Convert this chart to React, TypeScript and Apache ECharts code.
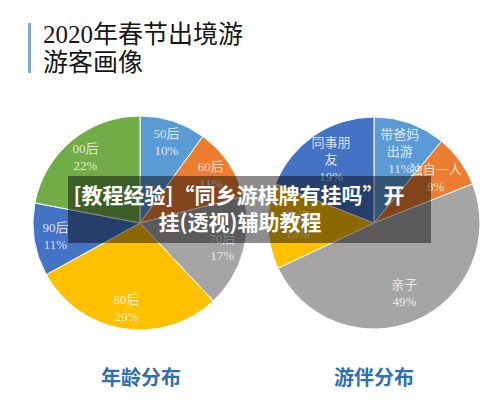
import React, { useEffect, useRef } from "react";
import * as echarts from "echarts";

const ageNames = ["50后", "60后", "70后", "80后", "90后", "00后"];
const ageValues = [10, 11, 17, 29, 11, 22];
const ageColors = ["#5B9BD5", "#ED7D31", "#A5A5A5", "#FFC000", "#4472C4", "#70AD47"];

const partnerNames = ["带爸妈出游", "独自一人", "亲子", "夫妻", "同事朋友"];
const partnerLabelNames = ["带爸妈\n出游", "独自一人", "亲子", "夫妻", "同事朋\n友"];
const partnerValues = [11, 8, 49, 13, 19];
const partnerColors = ["#5B9BD5", "#ED7D31", "#A5A5A5", "#FFC000", "#4472C4"];

const titleLines = ["2020年春节出境游", "游客画像"];
const subTitles = ["年龄分布", "游伴分布"];
const overlayLines = ["[教程经验]“同乡游棋牌有挂吗”开", "挂(透视)辅助教程"];

const serif = "'Liberation Serif', 'Noto Sans CJK SC', serif";
const cjk = "'Noto Sans CJK SC', sans-serif";

function midPoints(values: number[], rFrac: number) {
  const total = values.reduce((a, b) => a + b, 0);
  let acc = 0;
  return values.map((v) => {
    const mid = ((acc + v / 2) / total) * 100;
    acc += v;
    return [rFrac, mid];
  });
}

export default function App() {
  const ref = useRef<HTMLDivElement>(null);
  useEffect(() => {
    if (!ref.current) return;
    const chart = echarts.init(ref.current, null, { renderer: "svg" });

    const leftC = [140, 223];
    const leftR = 107;
    const rightC = [374, 223];
    const rightR = 106;

    const ageData = ageNames.map((n, i) => ({
      name: n,
      value: ageValues[i],
      itemStyle: { color: ageColors[i] },
    }));
    const partnerData = partnerNames.map((n, i) => ({
      name: n,
      value: partnerValues[i],
      itemStyle: { color: partnerColors[i] },
    }));

    const labelStyle = {
      show: true,
      position: "inside",
      color: "#ffffff",
      fontSize: 13,
      lineHeight: 17,
      fontFamily: serif,
    };

    const hiddenAxis = {
      show: false,
      axisLine: { show: false },
      axisTick: { show: false },
      axisLabel: { show: false },
      splitLine: { show: false },
    };

    const option: any = {
      animation: false,
      backgroundColor: "#ffffff",
      polar: [
        { center: leftC, radius: leftR },
        { center: rightC, radius: rightR },
      ],
      angleAxis: [
        { polarIndex: 0, type: "value", min: 0, max: 100, startAngle: 90, clockwise: true, ...hiddenAxis },
        { polarIndex: 1, type: "value", min: 0, max: 100, startAngle: 90, clockwise: true, ...hiddenAxis },
      ],
      radiusAxis: [
        { polarIndex: 0, type: "value", min: 0, max: 1, ...hiddenAxis },
        { polarIndex: 1, type: "value", min: 0, max: 1, ...hiddenAxis },
      ],
      series: [
        {
          type: "pie",
          center: leftC,
          radius: [0, leftR],
          startAngle: 90,
          clockwise: true,
          silent: true,
          label: { show: false },
          labelLine: { show: false },
          itemStyle: { borderColor: "#ffffff", borderWidth: 1 },
          data: ageData,
        },
        {
          type: "pie",
          center: rightC,
          radius: [0, rightR],
          startAngle: 90,
          clockwise: true,
          silent: true,
          label: { show: false },
          labelLine: { show: false },
          itemStyle: { borderColor: "#ffffff", borderWidth: 1 },
          data: partnerData,
        },
        {
          type: "scatter",
          coordinateSystem: "polar",
          polarIndex: 0,
          symbolSize: 1,
          silent: true,
          z: 5,
          itemStyle: { color: "transparent" },
          label: {
            ...labelStyle,
            formatter: (p: any) => ageNames[p.dataIndex] + "\n" + ageValues[p.dataIndex] + "%",
          },
          data: midPoints(ageValues, 0.8),
        },
        {
          type: "scatter",
          coordinateSystem: "polar",
          polarIndex: 1,
          symbolSize: 1,
          silent: true,
          z: 5,
          itemStyle: { color: "transparent" },
          label: {
            ...labelStyle,
            formatter: (p: any) =>
              partnerLabelNames[p.dataIndex] + "\n" + partnerValues[p.dataIndex] + "%",
          },
          data: midPoints(partnerValues, 0.72),
        },
      ],
      graphic: [
        {
          type: "rect",
          shape: { x: 28, y: 23, width: 3, height: 50 },
          style: { fill: "#7BAAD6" },
        },
        {
          type: "text",
          x: 43,
          y: 34,
          style: {
            text: titleLines[0],
            fontSize: 25,
            fontFamily: serif,
            fill: "#151515",
            textVerticalAlign: "middle",
          },
        },
        {
          type: "text",
          x: 43,
          y: 62,
          style: {
            text: titleLines[1],
            fontSize: 25,
            fontFamily: serif,
            fill: "#151515",
            textVerticalAlign: "middle",
          },
        },
        {
          type: "text",
          x: 141,
          y: 376,
          style: {
            text: subTitles[0],
            fontSize: 20,
            fontWeight: "bold",
            fontFamily: cjk,
            fill: "#2E6FAE",
            textAlign: "center",
            textVerticalAlign: "middle",
          },
        },
        {
          type: "text",
          x: 374,
          y: 376,
          style: {
            text: subTitles[1],
            fontSize: 20,
            fontWeight: "bold",
            fontFamily: cjk,
            fill: "#2E6FAE",
            textAlign: "center",
            textVerticalAlign: "middle",
          },
        },
        {
          type: "rect",
          z: 100,
          shape: { x: 68, y: 176, width: 363, height: 67 },
          style: { fill: "rgba(0,0,0,0.45)" },
        },
        {
          type: "text",
          z: 101,
          x: 239,
          y: 194,
          style: {
            text: overlayLines[0],
            fontSize: 21,
            fontWeight: "bold",
            fontFamily: cjk,
            fill: "#ffffff",
            textAlign: "center",
            textVerticalAlign: "middle",
          },
        },
        {
          type: "text",
          z: 101,
          x: 240,
          y: 221,
          style: {
            text: overlayLines[1],
            fontSize: 21,
            fontWeight: "bold",
            fontFamily: cjk,
            fill: "#ffffff",
            textAlign: "center",
            textVerticalAlign: "middle",
          },
        },
      ],
    };
    chart.setOption(option);
    return () => chart.dispose();
  }, []);
  return (
    <div
      ref={ref}
      style={{ position: "fixed", left: 0, top: 0, width: 500, height: 420, background: "#fff" }}
    />
  );
}
